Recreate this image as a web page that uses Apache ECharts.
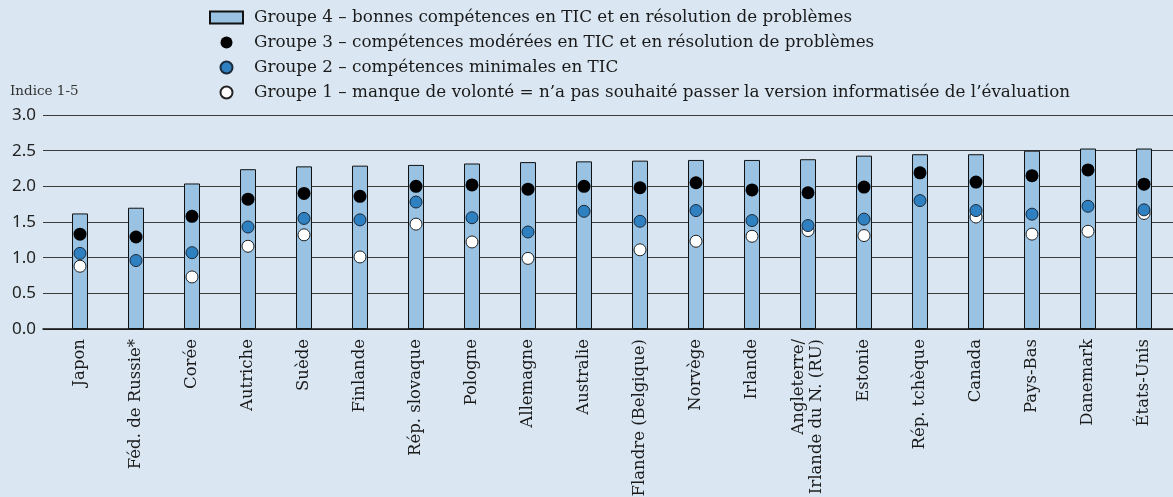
<!DOCTYPE html>
<html>
<head>
<meta charset="utf-8">
<script src="https://cdn.jsdelivr.net/npm/echarts@6/dist/echarts.min.js"></script>
<style>
html,body{margin:0;padding:0;background:#dae7f2;}
#main{width:1173px;height:497px;}
</style>
</head>
<body>
<div id="main"></div>
<script>
// pays
var pays = ['Japon','Féd. de Russie*','Corée','Autriche','Suède','Finlande','Rép. slovaque','Pologne','Allemagne','Australie',
	'Flandre (Belgique)','Norvège','Irlande','Angleterre/\nIrlande du N. (RU)','Estonie','Rép. tchèque','Canada','Pays-Bas','Danemark','États-Unis'];
// Groupe 4 (barres)
var groupe4 = [1.62,1.70,2.04,2.24,2.28,2.29,2.30,2.32,2.34,2.35,2.36,2.37,2.37,2.38,2.43,2.45,2.45,2.50,2.53,2.53];
// Groupe 3 (points noirs)
var groupe3 = [1.33,1.29,1.58,1.82,1.90,1.86,2.00,2.02,1.96,2.00,1.98,2.05,1.95,1.91,1.99,2.19,2.06,2.15,2.23,2.03];
// Groupe 2 (points bleus)
var groupe2 = [1.06,0.96,1.07,1.43,1.55,1.53,1.78,1.56,1.36,1.65,1.51,1.66,1.52,1.45,1.54,1.80,1.66,1.61,1.72,1.67];
// Groupe 1 (points blancs)
var groupe1 = [0.88,null,0.73,1.16,1.32,1.01,1.47,1.22,0.99,null,1.11,1.23,1.30,1.38,1.31,null,1.57,1.33,1.37,1.62];
var yTicks = [0,0.5,1,1.5,2,2.5,3];

var noms = [
	'Groupe 4 – bonnes compétences en TIC et en résolution de problèmes',
	'Groupe 3 – compétences modérées en TIC et en résolution de problèmes',
	'Groupe 2 – compétences minimales en TIC',
	'Groupe 1 – manque de volonté = n’a pas souhaité passer la version informatisée de l’évaluation'
];

var chart = echarts.init(document.getElementById('main'));
var serif = 'DejaVu Serif';

chart.setOption({
	backgroundColor: '#dae7f2',
	animation: false,
	graphic: [{
		type: 'text',
		left: 10,
		top: 84,
		style: {text: 'Indice 1-5', font: '13.5px "DejaVu Serif"', fill: '#333'}
	}],
	legend: {
		orient: 'vertical',
		left: 209,
		top: 9,
		padding: 0,
		itemWidth: 33,
		itemHeight: 12,
		itemGap: 8,
		textStyle: {fontFamily: serif, fontSize: 16.8, color: '#1a1a1a', padding: [0, 0, 0, 6]},
		data: [
			{name: noms[0], icon: 'rect'},
			{name: noms[1], icon: 'circle'},
			{name: noms[2], icon: 'circle'},
			{name: noms[3], icon: 'circle'}
		]
	},
	grid: [
		{left: 43, right: 0, top: 115, bottom: 168, outerBoundsMode: 'none'},
		{left: 52, right: 1, top: 115, bottom: 168, outerBoundsMode: 'none'}
	],
	xAxis: [
		{
			gridIndex: 0, type: 'value', min: 0, max: 1,
			axisLine: {show: true, lineStyle: {color: '#111', width: 1.5}},
			axisTick: {show: false}, axisLabel: {show: false}, splitLine: {show: false}
		},
		{
			gridIndex: 1, type: 'category', data: pays,
			axisLine: {show: false}, axisTick: {show: false},
			axisLabel: {
				rotate: 90, margin: 10, interval: 0,
				fontFamily: serif, fontSize: 16.5, color: '#1a1a1a', lineHeight: 18
			}
		}
	],
	yAxis: [
		{
			gridIndex: 0, type: 'value', min: 0, max: 3, interval: 0.5,
			axisLine: {show: false}, axisTick: {show: false},
			axisLabel: {
				margin: 7, fontFamily: 'Noto Sans', fontSize: 17, color: '#222',
				formatter: function(v){ return v.toFixed(1); }
			},
			splitLine: {lineStyle: {color: '#3a3a3a', width: 1.2}}
		},
		{
			gridIndex: 1, type: 'value', min: 0, max: 3, interval: 0.5,
			show: false, splitLine: {show: false}
		}
	],
	series: [
		{
			name: noms[0], type: 'bar', xAxisIndex: 1, yAxisIndex: 1,
			barWidth: 16, data: groupe4,
			itemStyle: {color: '#9ac2e2', borderColor: '#111', borderWidth: 1}
		},
		{
			name: noms[3], type: 'scatter', xAxisIndex: 1, yAxisIndex: 1,
			symbolSize: 12, data: groupe1,
			itemStyle: {color: '#ffffff', borderColor: '#222', borderWidth: 1, opacity: 1}
		},
		{
			name: noms[2], type: 'scatter', xAxisIndex: 1, yAxisIndex: 1,
			symbolSize: 12, data: groupe2,
			itemStyle: {color: '#2f80c1', borderColor: '#1a2a3a', borderWidth: 1, opacity: 1}
		},
		{
			name: noms[1], type: 'scatter', xAxisIndex: 1, yAxisIndex: 1,
			symbolSize: 13, data: groupe3,
			itemStyle: {color: '#000000', opacity: 1}
		}
	]
});
</script>
</body>
</html>
